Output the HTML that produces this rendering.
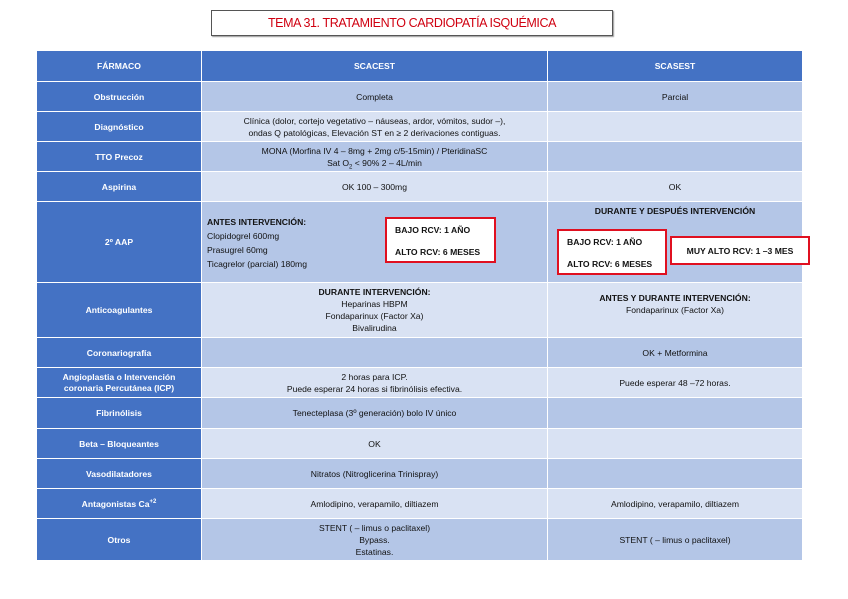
<!DOCTYPE html>
<html><head><meta charset="utf-8"><style>
body{margin:0;width:848px;height:599px;background:#fff;position:relative;overflow:hidden;font-family:"Liberation Sans",sans-serif;}
.c{position:absolute;display:flex;align-items:center;justify-content:center;text-align:center;font-size:8.6px;color:#111;line-height:12px;box-sizing:border-box;}
.c>div{display:block;}
.h{background:#4472C4;color:#fff;font-weight:bold;}
.d{background:#B4C6E7;}
.l{background:#D9E2F3;}
.rb{position:absolute;background:#fff;border:2px solid #e01020;box-sizing:border-box;font-size:8.6px;font-weight:bold;color:#111;}
sub,sup{font-size:6px;line-height:0;}
</style></head><body>
<div style="position:absolute;left:211px;top:10px;width:402px;height:26px;border:1px solid #555;box-sizing:border-box;box-shadow:1px 1px 1px #999;display:flex;align-items:center;justify-content:center;color:#d00010;font-size:12.5px;letter-spacing:-0.4px;">TEMA 31. TRATAMIENTO CARDIOPATÍA ISQUÉMICA</div>

<div class="c h" style="left:37px;top:51px;width:164px;height:30px"><div>FÁRMACO</div></div>
<div class="c h" style="left:202px;top:51px;width:345px;height:30px"><div>SCACEST</div></div>
<div class="c h" style="left:548px;top:51px;width:254px;height:30px"><div>SCASEST</div></div>

<div class="c h" style="left:37px;top:82px;width:164px;height:29px"><div>Obstrucción</div></div>
<div class="c d" style="left:202px;top:82px;width:345px;height:29px"><div>Completa</div></div>
<div class="c d" style="left:548px;top:82px;width:254px;height:29px"><div>Parcial</div></div>

<div class="c h" style="left:37px;top:112px;width:164px;height:29px"><div>Diagnóstico</div></div>
<div class="c l" style="left:202px;top:112px;width:345px;height:29px"><div>Clínica (dolor, cortejo vegetativo – náuseas, ardor, vómitos, sudor –),<br>ondas Q patológicas, Elevación ST en ≥ 2 derivaciones contiguas.</div></div>
<div class="c l" style="left:548px;top:112px;width:254px;height:29px"></div>

<div class="c h" style="left:37px;top:142px;width:164px;height:29px"><div>TTO Precoz</div></div>
<div class="c d" style="left:202px;top:142px;width:345px;height:29px"><div>MONA (Morfina IV 4 – 8mg + 2mg c/5-15min) / PteridinaSC<br>Sat O<sub>2</sub> &lt; 90% 2 – 4L/min</div></div>
<div class="c d" style="left:548px;top:142px;width:254px;height:29px"></div>

<div class="c h" style="left:37px;top:172px;width:164px;height:29px"><div>Aspirina</div></div>
<div class="c l" style="left:202px;top:172px;width:345px;height:29px"><div>OK 100 – 300mg</div></div>
<div class="c l" style="left:548px;top:172px;width:254px;height:29px"><div>OK</div></div>

<div class="c h" style="left:37px;top:202px;width:164px;height:80px"><div>2º AAP</div></div>
<div class="c d" style="left:202px;top:202px;width:345px;height:80px"></div>
<div class="c d" style="left:548px;top:202px;width:254px;height:80px"></div>
<div style="position:absolute;left:207px;top:215px;font-size:8.6px;line-height:14px;color:#111"><b>ANTES INTERVENCIÓN:</b><br>Clopidogrel 600mg<br>Prasugrel 60mg<br>Ticagrelor (parcial) 180mg</div>
<div style="position:absolute;left:548px;top:206px;width:254px;text-align:center;font-size:8.6px;font-weight:bold;color:#111">DURANTE Y DESPUÉS INTERVENCIÓN</div>
<div class="rb" style="left:385px;top:217px;width:111px;height:46px;padding:0 0 0 8px;line-height:22px">BAJO RCV: 1 AÑO<br>ALTO RCV: 6 MESES</div>
<div class="rb" style="left:557px;top:229px;width:110px;height:46px;padding:0 0 0 8px;line-height:22px">BAJO RCV: 1 AÑO<br>ALTO RCV: 6 MESES</div>
<div class="rb" style="left:670px;top:236px;width:140px;height:29px;display:flex;align-items:center;justify-content:center">MUY ALTO RCV: 1 –3 MES</div>

<div class="c h" style="left:37px;top:283px;width:164px;height:54px"><div>Anticoagulantes</div></div>
<div class="c l" style="left:202px;top:283px;width:345px;height:54px"><div><b>DURANTE INTERVENCIÓN:</b><br>Heparinas HBPM<br>Fondaparinux (Factor Xa)<br>Bivalirudina</div></div>
<div class="c l" style="left:548px;top:283px;width:254px;height:54px;align-items:flex-start;padding-top:9px"><div><b>ANTES Y DURANTE INTERVENCIÓN:</b><br>Fondaparinux (Factor Xa)</div></div>

<div class="c h" style="left:37px;top:338px;width:164px;height:29px"><div>Coronariografía</div></div>
<div class="c d" style="left:202px;top:338px;width:345px;height:29px"></div>
<div class="c d" style="left:548px;top:338px;width:254px;height:29px"><div>OK + Metformina</div></div>

<div class="c h" style="left:37px;top:368px;width:164px;height:29px;line-height:11px"><div>Angioplastia o Intervención<br>coronaria Percutánea (ICP)</div></div>
<div class="c l" style="left:202px;top:368px;width:345px;height:29px"><div>2 horas para ICP.<br>Puede esperar 24 horas si fibrinólisis efectiva.</div></div>
<div class="c l" style="left:548px;top:368px;width:254px;height:29px"><div>Puede esperar 48 –72 horas.</div></div>

<div class="c h" style="left:37px;top:398px;width:164px;height:30px"><div>Fibrinólisis</div></div>
<div class="c d" style="left:202px;top:398px;width:345px;height:30px"><div>Tenecteplasa (3º generación) bolo IV único</div></div>
<div class="c d" style="left:548px;top:398px;width:254px;height:30px"></div>

<div class="c h" style="left:37px;top:429px;width:164px;height:29px"><div>Beta – Bloqueantes</div></div>
<div class="c l" style="left:202px;top:429px;width:345px;height:29px"><div>OK</div></div>
<div class="c l" style="left:548px;top:429px;width:254px;height:29px"></div>

<div class="c h" style="left:37px;top:459px;width:164px;height:29px"><div>Vasodilatadores</div></div>
<div class="c d" style="left:202px;top:459px;width:345px;height:29px"><div>Nitratos (Nitroglicerina Trinispray)</div></div>
<div class="c d" style="left:548px;top:459px;width:254px;height:29px"></div>

<div class="c h" style="left:37px;top:489px;width:164px;height:29px"><div>Antagonistas Ca<sup>+2</sup></div></div>
<div class="c l" style="left:202px;top:489px;width:345px;height:29px"><div>Amlodipino, verapamilo, diltiazem</div></div>
<div class="c l" style="left:548px;top:489px;width:254px;height:29px"><div>Amlodipino, verapamilo, diltiazem</div></div>

<div class="c h" style="left:37px;top:519px;width:164px;height:41px"><div>Otros</div></div>
<div class="c d" style="left:202px;top:519px;width:345px;height:41px"><div>STENT ( – limus o paclitaxel)<br>Bypass.<br>Estatinas.</div></div>
<div class="c d" style="left:548px;top:519px;width:254px;height:41px"><div>STENT ( – limus o paclitaxel)</div></div>
</body></html>
